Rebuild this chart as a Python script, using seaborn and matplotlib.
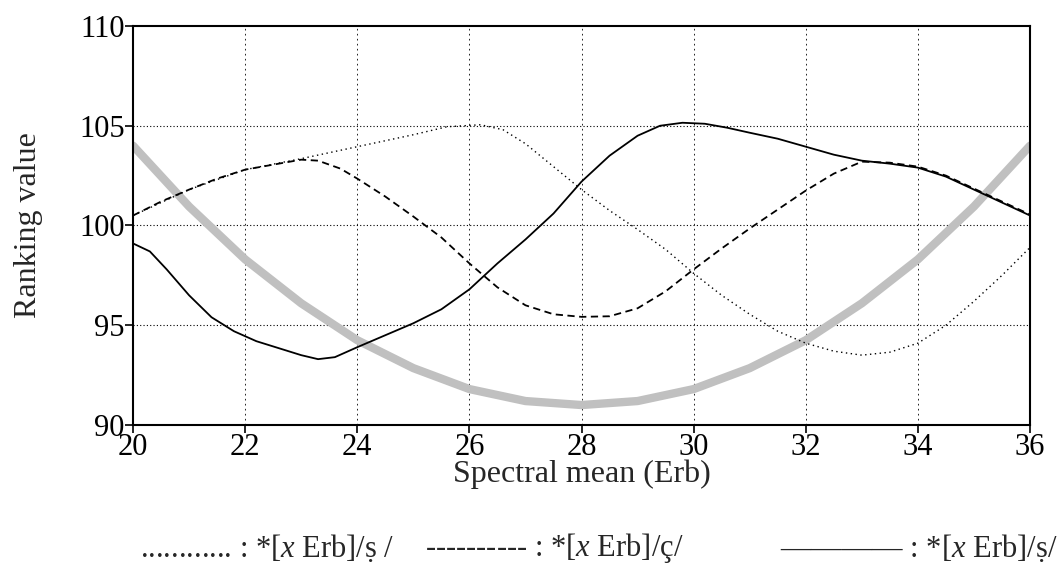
import matplotlib
matplotlib.use("Agg")
import matplotlib.pyplot as plt
import seaborn as sns

# values
x_grey = [20, 21, 22, 23, 24, 25, 26, 27, 28, 29, 30, 31, 32, 33, 34, 35, 36]
y_grey = [104.0, 100.95, 98.3, 96.1, 94.25, 92.85, 91.8, 91.2, 91.0,
          91.2, 91.8, 92.85, 94.25, 96.1, 98.3, 100.95, 104.0]

x_solid = [20, 20.3, 20.6, 21.0, 21.4, 21.8, 22.2, 22.6, 23.0, 23.3, 23.6, 24.0, 24.5,
           25.0, 25.5, 26.0, 26.5, 27.0, 27.5, 28.0, 28.5, 29.0, 29.4, 29.8, 30.2,
           30.6, 31.0, 31.5, 32.0, 32.5, 33.0, 33.5, 34.0, 34.5, 35.0, 35.5, 36.0]
y_solid = [99.1, 98.7, 97.8, 96.5, 95.4, 94.7, 94.2, 93.85, 93.5, 93.3, 93.4, 93.9, 94.5,
           95.1, 95.8, 96.8, 98.1, 99.3, 100.6, 102.2, 103.5, 104.5, 105.0, 105.15, 105.1,
           104.9, 104.65, 104.35, 103.95, 103.55, 103.25, 103.1, 102.9, 102.45, 101.8,
           101.15, 100.5]

x_dash = [20, 20.5, 21, 21.5, 22, 22.5, 23, 23.3, 23.7, 24, 24.5, 25, 25.5, 26, 26.5,
          27, 27.5, 28, 28.5, 29, 29.5, 30, 30.5, 31, 31.5, 32, 32.5, 33, 33.5, 34,
          34.5, 35, 35.5, 36]
y_dash = [100.5, 101.2, 101.8, 102.35, 102.8, 103.05, 103.3, 103.25, 102.85, 102.35,
          101.45, 100.45, 99.4, 98.1, 96.9, 96.0, 95.55, 95.42, 95.45, 95.85, 96.7, 97.8,
          98.85, 99.85, 100.8, 101.75, 102.6, 103.2, 103.15, 102.95, 102.5, 101.85,
          101.2, 100.55]

x_dot = [20, 21, 22, 23, 24, 25, 25.6, 26.2, 26.6, 27.0, 27.5, 28, 28.5, 29, 29.5,
         30, 30.5, 31, 31.5, 32, 32.5, 33, 33.5, 34, 34.5, 35, 35.5, 36]
y_dot = [100.5, 101.8, 102.8, 103.35, 103.95, 104.55, 104.95, 105.05, 104.8, 104.1,
         102.95, 101.8, 100.75, 99.8, 98.8, 97.6, 96.5, 95.55, 94.7, 94.1, 93.7, 93.5,
         93.65, 94.1, 95.0, 96.2, 97.5, 98.9]

legend_labels = ["............ : *[$x$ Erb]/ṣ /",
                 "---------- : *[$x$ Erb]/ç/",
                 "———— : *[$x$ Erb]/ṣ/"]
x_ticks = [20, 22, 24, 26, 28, 30, 32, 34, 36]
y_ticks = [90, 95, 100, 105, 110]

sns.set_style("ticks")
plt.rcParams['font.family'] = ['Liberation Serif', 'DejaVu Serif']
plt.rcParams['mathtext.fontset'] = 'custom'
plt.rcParams['mathtext.rm'] = 'Liberation Serif'
plt.rcParams['mathtext.it'] = 'Liberation Serif:italic'

fig = plt.figure(figsize=(10.61, 5.74), dpi=100)
ax = fig.add_axes([0.1254, 0.2596, 0.8454, 0.6951])

sns.lineplot(x=x_grey, y=y_grey, color='#c0c0c0', linewidth=6, ax=ax, zorder=2)
sns.lineplot(x=x_dot, y=y_dot, color='black', linewidth=1, ax=ax, zorder=3)
ax.lines[-1].set_linestyle((0, (1, 2.5)))
sns.lineplot(x=x_dash, y=y_dash, color='black', linewidth=1.3, ax=ax, zorder=3)
ax.lines[-1].set_linestyle((0, (4, 2.5)))
sns.lineplot(x=x_solid, y=y_solid, color='black', linewidth=1.3, ax=ax, zorder=3)

ax.set_xlim(20, 36)
ax.set_ylim(90, 110)
ax.set_xticks(x_ticks)
ax.set_yticks(y_ticks)
ax.tick_params(direction='out', length=6, width=1.2, labelsize=22, pad=0, colors='black')
for s in ax.spines.values():
    s.set_linewidth(1.5)
    s.set_color('black')

# dotted grid only inside the frame
for yv in [95, 100, 105]:
    ax.axhline(yv, color='black', linewidth=0.8, linestyle=(0, (1, 2)), zorder=1)
for xv in x_ticks[1:-1]:
    ax.axvline(xv, color='black', linewidth=0.6, linestyle=(0, (2, 4)), zorder=1)

ax.set_xlabel("Spectral mean (Erb)", fontsize=23, labelpad=-2)
ax.set_ylabel("Ranking value", fontsize=23, labelpad=26)

# legend typeset as text, like the original
fig.text(140 / 1061, 0.045, legend_labels[0], fontsize=22, ha='left', va='center')
fig.text(425 / 1061, 0.045, legend_labels[1], fontsize=22, ha='left', va='center')
fig.text(1058 / 1061, 0.045, legend_labels[2], fontsize=22, ha='right', va='center')

fig.savefig("out.png", dpi=100)
